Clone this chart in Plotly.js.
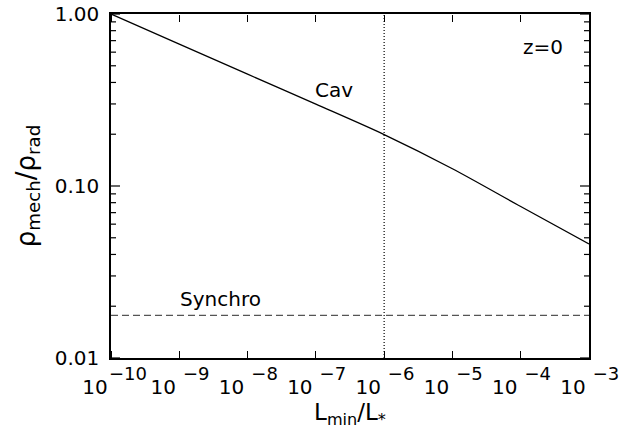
<!DOCTYPE html>
<html>
<head>
<meta charset="utf-8">
<script src="https://cdn.plot.ly/plotly-3.0.1.min.js"></script>
<style>html,body{margin:0;padding:0;background:#fff;}#chart{width:622px;height:429px;}</style>
</head>
<body>
<div id="chart"></div>
<script>
// Data
const lminOverLstar = [1e-10, 1e-9, 1e-8, 1e-7, 1e-6, 1e-5, 1e-4, 1e-3];
const cavRatio      = [1.00, 0.668, 0.447, 0.299, 0.199, 0.126, 0.076, 0.046];
const synchroX      = [1e-10, 1e-3];
const synchroRatio  = [0.0177, 0.0177];
const markerLineX   = [1e-6, 1e-6];
const markerLineY   = [0.01, 1.0];

const xTickVals = [1e-10, 1e-9, 1e-8, 1e-7, 1e-6, 1e-5, 1e-4, 1e-3];
const xTickBase = ['10', '10', '10', '10', '10', '10', '10', '10'];
const xTickExps = ['−10', '−9', '−8', '−7', '−6', '−5', '−4', '−3'];
const yTickVals = [0.01, 0.1, 1.0];
const yTickText = ['0.01', '0.10', '1.00'];
const yMinorVals = [0.02,0.03,0.04,0.05,0.06,0.07,0.08,0.09,0.2,0.3,0.4,0.5,0.6,0.7,0.8,0.9];

const FONT = 'DejaVu Sans, Verdana, sans-serif';
const X_RANGE = [-10, -3];   // log10 range of the x axis
const PLOT_W = 622 - 111 - 33; // plot-area width in px

const traces = [
  {x: lminOverLstar, y: cavRatio, mode: 'lines', line: {color: '#000', width: 1.3, shape: 'spline', smoothing: 0.8}, hoverinfo: 'skip'},
  {x: synchroX, y: synchroRatio, mode: 'lines', line: {color: '#555', width: 1.3, dash: '7px,4px'}, hoverinfo: 'skip'},
  {x: markerLineX, y: markerLineY, mode: 'lines', line: {color: '#000', width: 1.2, dash: '1px,2px'}, hoverinfo: 'skip'}
];

// y-axis inward ticks on the left and right frame, as short horizontal segments
function yTickSegments(vals, lenPx) {
  const dDec = lenPx * (X_RANGE[1] - X_RANGE[0]) / PLOT_W;  // tick length in decades
  const xL = Math.pow(10, X_RANGE[0]), xR = Math.pow(10, X_RANGE[1]);
  const xs = [], ys = [];
  vals.forEach(function (v) {
    xs.push(xL, xL * Math.pow(10, dDec), null, xR, xR / Math.pow(10, dDec), null);
    ys.push(v, v, null, v, v, null);
  });
  return {x: xs, y: ys, mode: 'lines', connectgaps: false, line: {color: '#000', width: 1.2}, hoverinfo: 'skip'};
}
traces.push(yTickSegments(yTickVals, 9));
traces.push(yTickSegments(yMinorVals, 5));

const logX = {type: 'log', range: X_RANGE, showgrid: false, zeroline: false, fixedrange: true};
const logY = {type: 'log', range: [-2, 0], showgrid: false, zeroline: false, fixedrange: true};

// x helper axes: outside ticks of an axis placed on the opposite edge point into the plot
function xTickAxis(side, pos, vals, len) {
  return Object.assign({}, logX, {
    overlaying: 'x', anchor: 'free', side: side, position: pos,
    showline: false, showticklabels: false,
    ticks: 'outside', ticklen: len, tickwidth: 1.2, tickcolor: '#000',
    tickmode: 'array', tickvals: vals
  });
}

const layout = {
  width: 622, height: 429,
  margin: {l: 111, r: 33, t: 14, b: 71},
  paper_bgcolor: '#fff', plot_bgcolor: '#fff',
  showlegend: false,
  font: {family: FONT, color: '#000', size: 19},
  xaxis: Object.assign({}, logX, {
    showline: true, linecolor: '#000', linewidth: 1.5, mirror: true, ticks: '',
    tickmode: 'array', tickvals: xTickVals, ticktext: xTickBase,
    tickfont: {family: FONT, size: 20, color: '#000'},
    ticklabelshift: -16, ticklabelstandoff: 10,
    title: {text: 'L<sub>min</sub>/L<sub>*</sub>', font: {family: FONT, size: 23}, standoff: 10}
  }),
  xaxis2: Object.assign({}, logX, {
    overlaying: 'x', anchor: 'y', side: 'bottom', showline: false, ticks: '',
    tickmode: 'array', tickvals: xTickVals, ticktext: xTickExps,
    tickfont: {family: FONT, size: 18, color: '#000'},
    ticklabelshift: 17, ticklabelstandoff: 3
  }),
  xaxis3: xTickAxis('top', 0, xTickVals, 7),
  xaxis4: xTickAxis('bottom', 1, xTickVals, 7),
  yaxis: Object.assign({}, logY, {
    showline: true, linecolor: '#000', linewidth: 1.5, mirror: true, ticks: '',
    tickmode: 'array', tickvals: yTickVals, ticktext: yTickText,
    tickfont: {family: FONT, size: 20, color: '#000'},
    ticklabelstandoff: 6,
    title: {text: 'ρ<sub>mech</sub>/ρ<sub>rad</sub>', font: {family: FONT, size: 26}, standoff: 12}
  }),
  annotations: [
    {x: -6.73, y: Math.log10(0.362), xref: 'x', yref: 'y', text: 'Cav', showarrow: false, font: {family: FONT, size: 20}},
    {x: -8.4, y: Math.log10(0.022), xref: 'x', yref: 'y', text: 'Synchro', showarrow: false, font: {family: FONT, size: 20}},
    {x: -3.68, y: Math.log10(0.64), xref: 'x', yref: 'y', text: 'z=0', showarrow: false, font: {family: FONT, size: 20}}
  ]
};

// invisible traces that activate the helper x axes
['x2', 'x3', 'x4'].forEach(function (ax) {
  traces.push({x: synchroX, y: synchroRatio, xaxis: ax, yaxis: 'y', mode: 'lines', line: {width: 0}, opacity: 0, hoverinfo: 'skip'});
});

Plotly.newPlot('chart', traces, layout, {displayModeBar: false});
</script>
</body>
</html>
